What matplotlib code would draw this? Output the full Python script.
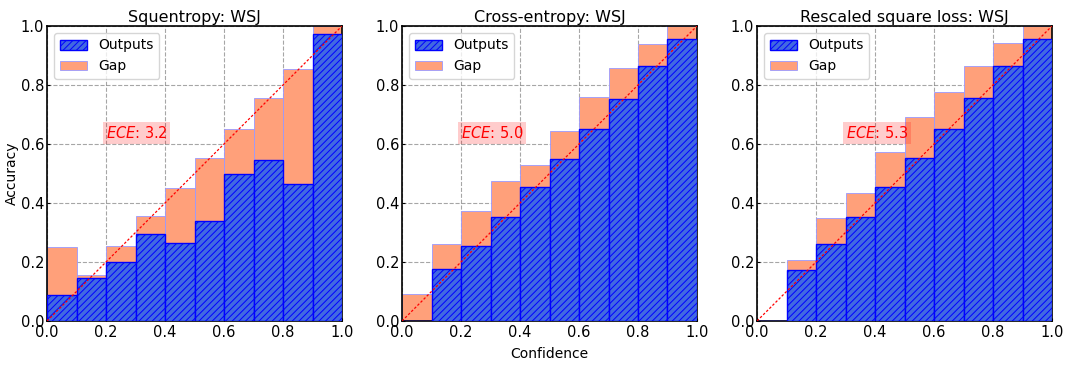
import numpy as np
import matplotlib
matplotlib.use("Agg")
import matplotlib.pyplot as plt

# reliability diagrams, 10 confidence bins each
titles = ["Squentropy: WSJ", "Cross-entropy: WSJ", "Rescaled square loss: WSJ"]
ece_values = [3.2, 5.0, 5.3]

# bar heights (accuracy) and top of the gap bar for every bin
outputs_sq = [0.088, 0.147, 0.199, 0.295, 0.264, 0.339, 0.499, 0.546, 0.465, 0.974]
gap_top_sq = [0.252, 0.156, 0.254, 0.356, 0.451, 0.553, 0.651, 0.756, 0.854, 1.0]

outputs_ce = [0.0, 0.177, 0.254, 0.353, 0.455, 0.550, 0.652, 0.754, 0.863, 0.955]
gap_top_ce = [0.093, 0.261, 0.372, 0.474, 0.529, 0.645, 0.760, 0.857, 0.940, 1.0]

outputs_rs = [0.0, 0.172, 0.261, 0.353, 0.455, 0.553, 0.652, 0.757, 0.863, 0.955]
gap_top_rs = [0.0, 0.207, 0.348, 0.433, 0.574, 0.693, 0.776, 0.863, 0.943, 1.0]

ece_text_x = [0.20, 0.20, 0.30]

n_bins = 10
bin_size = 1.0 / n_bins
positions = np.arange(n_bins) * bin_size + bin_size / 2

plt.rcParams["hatch.linewidth"] = 0.7


def rel_diagram(ax, outputs, gap_top, title, ece, tx):
    outputs = np.array(outputs)
    gap_top = np.array(gap_top)
    ax.grid(True, color="grey", linestyle="--", linewidth=0.8, alpha=0.7, zorder=0)
    ax.set_axisbelow(True)
    # gap between accuracy and the top of the bin
    gap = ax.bar(positions, gap_top - outputs, bottom=outputs, width=bin_size,
                 color="lightsalmon", edgecolor=(0.6, 0.6, 1.0), linewidth=0.6,
                 label="Gap", zorder=2)
    out = ax.bar(positions, outputs, width=bin_size, color="royalblue",
                 edgecolor="b", linewidth=1.0, hatch="/////", label="Outputs", zorder=3)
    ax.plot([0, 1], [0, 1], linestyle=(0, (2, 1.5)), color="red", linewidth=0.9, zorder=4)
    ax.text(tx, 0.637, "$ECE$: %.1f" % ece, color="red", fontsize=10.5, va="center",
            bbox=dict(facecolor="red", alpha=0.2, edgecolor="none", pad=2), zorder=5)
    ax.legend(handles=[out, gap], loc="upper left", fontsize=10)
    ax.set_xlim(0, 1)
    ax.set_ylim(0, 1)
    ax.set_xticks(np.linspace(0, 1, 6))
    ax.set_yticks(np.linspace(0, 1, 6))
    ax.tick_params(labelsize=10.5, direction="in", length=2, pad=3)
    ax.tick_params(axis="y", pad=2)
    for s in ax.spines.values():
        s.set_linewidth(1.2)
    ax.set_title(title, fontsize=11.5, pad=3)


fig = plt.figure(figsize=(10.66, 3.65), dpi=100)
lefts = [47, 402, 757]
data = [(outputs_sq, gap_top_sq), (outputs_ce, gap_top_ce), (outputs_rs, gap_top_rs)]
axes = []
for i in range(3):
    ax = fig.add_axes([lefts[i] / 1066, (365 - 321) / 365, 295 / 1066, 295 / 365])
    rel_diagram(ax, data[i][0], data[i][1], titles[i], ece_values[i], ece_text_x[i])
    axes.append(ax)

axes[0].set_ylabel("Accuracy", fontsize=10, labelpad=1)
axes[1].set_xlabel("Confidence", fontsize=10, labelpad=5)

fig.savefig("out.png", dpi=100)
